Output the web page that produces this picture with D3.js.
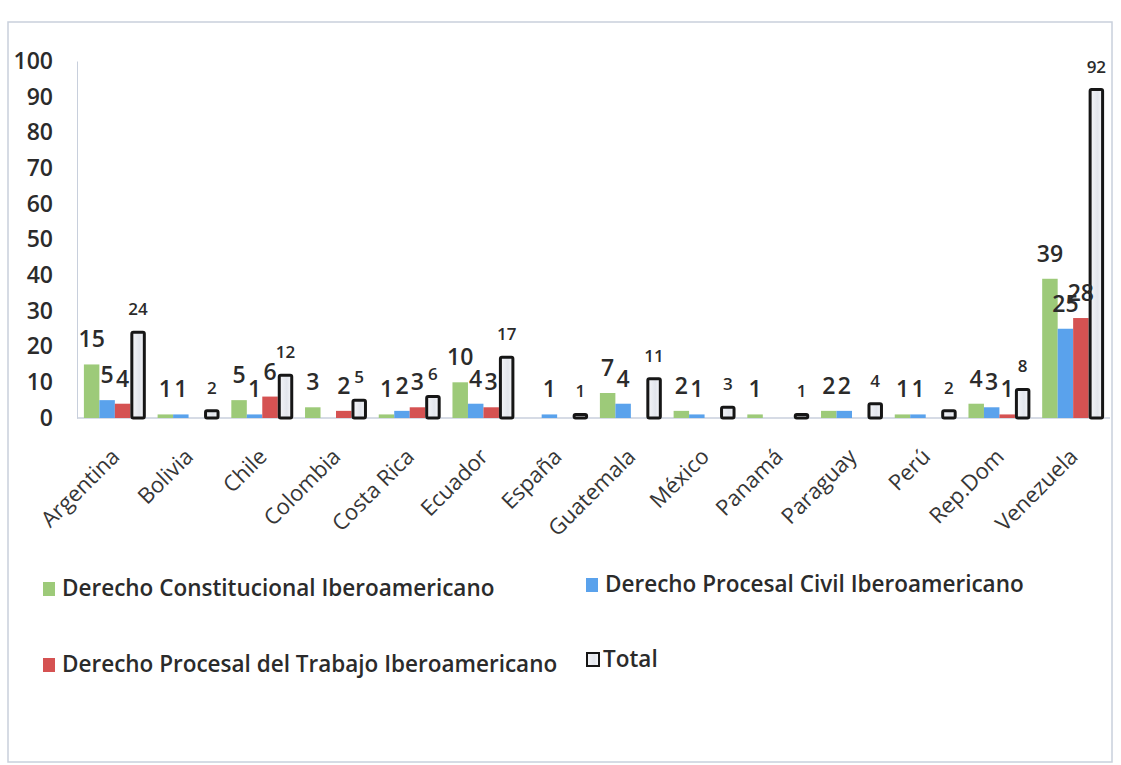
<!DOCTYPE html>
<html lang="es">
<head>
<meta charset="utf-8"/>
<title>Publicaciones por país</title>
<style>
  * { margin: 0; padding: 0; }
  body { background: #fff; }
  svg { display: block; font-family: "Open Sans", Lato, sans-serif; }
  text { fill: #2b2b2b; }
  .tick text { font-size: 23px; fill: #2b2b2b; font-family: "Open Sans", sans-serif; font-weight: 600; }
  .xlab { font-size: 22px; fill: #363636; }
  .lbl { font-size: 23px; font-weight: 600; }
  .lbl.total { font-size: 17px; font-weight: 600; }
  .legend text { font-size: 22.5px; font-weight: 600; }
</style>
<script src="https://d3js.org/d3.v7.min.js"></script>
</head>
<body>
<svg id="chart" width="1121" height="765"></svg>
<script>
// categories and series values
const countries = ["Argentina", "Bolivia", "Chile", "Colombia", "Costa Rica", "Ecuador", "España",
                   "Guatemala", "México", "Panamá", "Paraguay", "Perú", "Rep.Dom", "Venezuela"];
const constitucional = [15, 1, 5, 3, 1, 10, 0, 7, 2, 1, 2, 1, 4, 39];
const procesalCivil  = [5, 1, 1, 0, 2, 4, 1, 4, 1, 0, 2, 1, 3, 25];
const procesalTrabajo = [4, 0, 6, 2, 3, 3, 0, 0, 0, 0, 0, 0, 1, 28];
const total = [24, 2, 12, 5, 6, 17, 1, 11, 3, 1, 4, 2, 8, 92];
const seriesNames = ["Derecho Constitucional Iberoamericano", "Derecho Procesal Civil Iberoamericano",
                     "Derecho Procesal del Trabajo Iberoamericano", "Total"];
const yTicks = [0, 10, 20, 30, 40, 50, 60, 70, 80, 90, 100];

const colors = ["#9dca79", "#5aa2ec", "#d55252", "url(#totalFill)"];
const series = [constitucional, procesalCivil, procesalTrabajo, total];

const svg = d3.select("#chart");

// gradient for the total bars
const grad = svg.append("defs").append("linearGradient")
  .attr("id", "totalFill").attr("x1", 0).attr("x2", 1).attr("y1", 0).attr("y2", 0);
grad.append("stop").attr("offset", "0%").attr("stop-color", "#f4f5f8");
grad.append("stop").attr("offset", "60%").attr("stop-color", "#e2e5ec");
grad.append("stop").attr("offset", "100%").attr("stop-color", "#f6f7f9");

// outer frame
svg.append("rect")
  .attr("x", 8).attr("y", 22).attr("width", 1104).attr("height", 740)
  .attr("fill", "none").attr("stroke", "#c9d0dc").attr("stroke-width", 1.5);

const x = d3.scaleBand()
  .domain(countries)
  .range([78, 1110])
  .paddingInner(0.16)
  .paddingOuter(0.08);

const xSub = d3.scaleBand()
  .domain(d3.range(series.length))
  .range([0, x.bandwidth()]);

const y = d3.scaleLinear()
  .domain([0, 100])
  .range([418, 61]);

// y axis
const yAxis = svg.append("g")
  .attr("transform", "translate(77,0)")
  .call(d3.axisLeft(y).tickValues(yTicks).tickSize(0).tickPadding(24));
yAxis.select(".domain").attr("stroke", "#c8cfdc");

// x axis baseline
svg.append("line")
  .attr("x1", 77).attr("x2", 1110)
  .attr("y1", y(0)).attr("y2", y(0))
  .attr("stroke", "#c8cfdc").attr("stroke-width", 1.5);

// bars
const groups = svg.append("g").selectAll("g")
  .data(countries)
  .join("g")
  .attr("transform", d => `translate(${x(d)},0)`);

groups.selectAll("rect")
  .data((d, i) => series.map((s, k) => ({ k: k, v: s[i] })).filter(e => e.v > 0))
  .join("rect")
  .attr("x", d => xSub(d.k) + (d.k === 3 ? 1.5 : 0))
  .attr("width", d => xSub.bandwidth() - (d.k === 3 ? 3 : 0))
  .attr("y", d => y(d.v))
  .attr("height", d => y(0) - y(d.v))
  .attr("rx", d => d.k === 3 ? 1.5 : 0)
  .attr("fill", d => colors[d.k])
  .attr("stroke", d => d.k === 3 ? "#161616" : "none")
  .attr("stroke-width", d => d.k === 3 ? 3 : 0);

// value labels
groups.selectAll("text.lbl")
  .data((d, i) => series.map((s, k) => ({ k: k, v: s[i] })).filter(e => e.v > 0))
  .join("text")
  .attr("class", d => d.k === 3 ? "lbl total" : "lbl")
  .attr("x", d => xSub(d.k) + xSub.bandwidth() / 2)
  .attr("y", d => y(d.v) - 17)
  .attr("text-anchor", "middle")
  .text(d => d.v);

// category labels
svg.append("g").selectAll("text")
  .data(countries)
  .join("text")
  .attr("class", "xlab")
  .attr("text-anchor", "end")
  .attr("transform", d => `translate(${x(d) + x.bandwidth() / 2 + 6},458) rotate(-45)`)
  .text(d => d);

// legend
const legendItems = [
  { name: seriesNames[0], k: 0, x: 43, y: 596 },
  { name: seriesNames[1], k: 1, x: 586, y: 592 },
  { name: seriesNames[2], k: 2, x: 43, y: 672 },
  { name: seriesNames[3], k: 3, x: 586, y: 667 }
];
const lg = svg.append("g").attr("class", "legend").selectAll("g")
  .data(legendItems)
  .join("g")
  .attr("transform", d => `translate(${d.x},${d.y})`);
lg.append("rect")
  .attr("x", d => d.k === 3 ? 1 : 0)
  .attr("y", -14)
  .attr("width", 12)
  .attr("height", d => d.k === 3 ? 13 : 14)
  .attr("fill", d => colors[d.k])
  .attr("stroke", d => d.k === 3 ? "#161616" : "none")
  .attr("stroke-width", 2);
lg.append("text")
  .attr("x", d => d.k === 3 ? 17 : 19)
  .attr("y", 0)
  .text(d => d.name);
</script>
</body>
</html>
